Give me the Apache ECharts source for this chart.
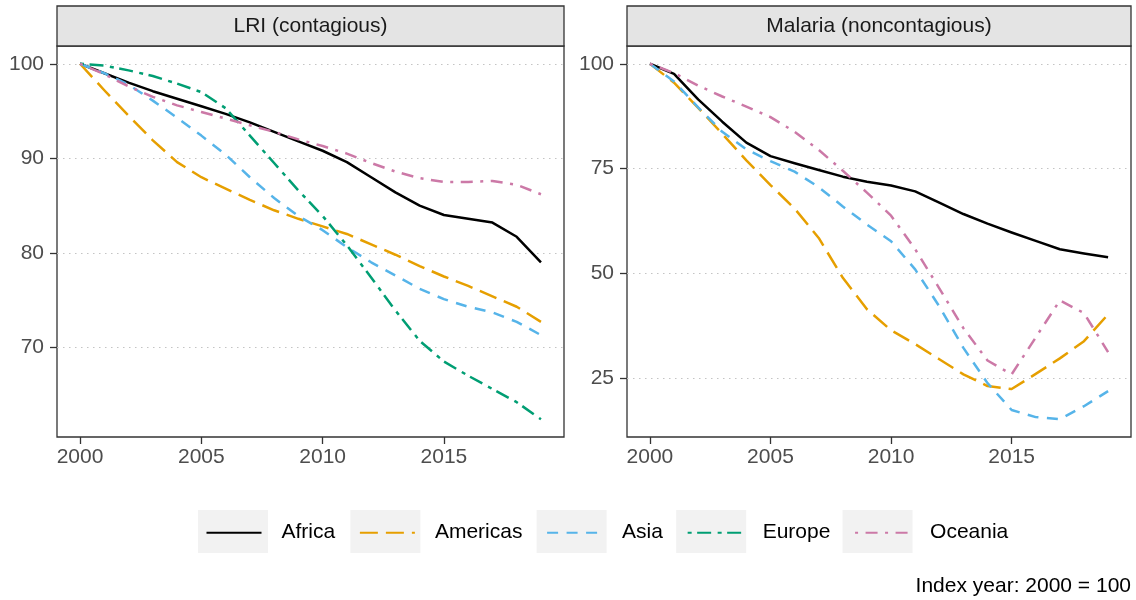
<!DOCTYPE html>
<html>
<head>
<meta charset="utf-8">
<title>LRI and malaria index by region</title>
<script src="https://cdn.jsdelivr.net/npm/echarts@6/dist/echarts.min.js"></script>
<style>
  html, body { margin: 0; padding: 0; background: #ffffff; }
  #chart { width: 1136px; height: 600px; }
</style>
</head>
<body>
<div id="chart"></div>
<script>
// ---- data -------------------------------------------------------------
const years = [2000, 2001, 2002, 2003, 2004, 2005, 2006, 2007, 2008, 2009,
               2010, 2011, 2012, 2013, 2014, 2015, 2016, 2017, 2018, 2019];
const regions = ['Africa', 'Americas', 'Asia', 'Europe', 'Oceania'];
const panelTitles = ['LRI (contagious)', 'Malaria (noncontagious)'];

const lriAfrica   = [100, 99.0, 98.0, 97.1, 96.3, 95.5, 94.7, 93.8, 92.8, 91.8, 90.8, 89.6, 88.0, 86.4, 85.0, 84.0, 83.6, 83.2, 81.7, 79.0];
const lriAmericas = [100, 97.2, 94.5, 91.9, 89.6, 88.0, 86.8, 85.6, 84.5, 83.6, 82.8, 82.0, 80.9, 79.8, 78.6, 77.5, 76.5, 75.4, 74.3, 72.7];
const lriAsia     = [100, 99.0, 97.8, 96.1, 94.3, 92.4, 90.4, 88.0, 85.8, 83.9, 82.4, 80.6, 79.0, 77.6, 76.2, 75.1, 74.3, 73.7, 72.7, 71.3];
const lriEurope   = [100, 99.8, 99.3, 98.7, 97.9, 97.0, 95.3, 92.4, 89.5, 86.6, 83.9, 80.8, 77.4, 73.9, 70.7, 68.5, 67.0, 65.6, 64.2, 62.4];
const lriOceania  = [100, 98.9, 97.6, 96.5, 95.6, 94.9, 94.2, 93.5, 92.8, 92.0, 91.3, 90.5, 89.5, 88.6, 87.9, 87.5, 87.5, 87.6, 87.2, 86.2];

const malariaAfrica   = [100, 97.6, 91.5, 86.2, 81.2, 78.0, 76.3, 74.7, 73.1, 71.9, 71.0, 69.6, 66.9, 64.2, 61.9, 59.8, 57.8, 55.8, 54.8, 53.9];
const malariaAmericas = [100, 95.5, 89.5, 83.3, 77.0, 71.1, 65.5, 58.5, 49.0, 41.5, 36.5, 33.2, 29.6, 26.0, 23.2, 22.5, 26.1, 29.8, 33.9, 40.3];
const malariaAsia     = [100, 95.8, 89.6, 83.8, 79.6, 76.8, 74.3, 70.6, 66.0, 61.7, 57.7, 51.0, 42.2, 32.3, 23.9, 17.5, 15.8, 15.3, 18.4, 22.0];
const malariaOceania  = [100, 97.8, 94.8, 92.2, 89.8, 87.3, 83.8, 79.5, 74.5, 69.3, 63.8, 55.8, 46.5, 37.0, 29.3, 26.0, 34.8, 43.6, 40.6, 31.3];

const xTicks = [2000, 2005, 2010, 2015];
const lriTicks = [70, 80, 90, 100];
const malariaTicks = [25, 50, 75, 100];
const captionText = 'Index year: 2000 = 100';

// ---- styling ----------------------------------------------------------
const FONT = "'Liberation Sans', Arial, Helvetica, sans-serif";
const FS = 21;
const LINE_W = 2.5;
const regionColor = {
  Africa: '#000000', Americas: '#E69F00', Asia: '#56B4E9', Europe: '#009E73', Oceania: '#CC79A7'
};
const regionDash = {
  Africa: 'solid',
  Americas: [18, 8],
  Asia: [11, 8.5],
  Europe: [4, 5.5, 14, 6.5],
  Oceania: [3, 7.5, 12, 7.5]
};

// panel rectangles (pixels)
const panels = [
  { left: 57, top: 46, width: 507, height: 391 },
  { left: 627, top: 46, width: 504, height: 391 }
];
const stripTop = 6;

// values per panel, keyed by region
const panelData = [
  { Africa: lriAfrica, Americas: lriAmericas, Asia: lriAsia, Europe: lriEurope, Oceania: lriOceania },
  { Africa: malariaAfrica, Americas: malariaAmericas, Asia: malariaAsia, Oceania: malariaOceania }
];
const panelTicks = [lriTicks, malariaTicks];

// continuous scale expanded by 5% on each side
function expanded(values) {
  const lo = Math.min(...values), hi = Math.max(...values);
  const pad = (hi - lo) * 0.05;
  return [lo - pad, hi + pad];
}
const xRange = expanded(years);

const grids = panels.map(p => ({
  left: p.left, top: p.top, width: p.width, height: p.height,
  show: true, backgroundColor: '#ffffff', borderColor: '#333333', borderWidth: 1.3,
  containLabel: false
}));

const xAxes = panels.map((p, i) => ({
  type: 'value', gridIndex: i, min: xRange[0], max: xRange[1],
  axisLine: { show: false },
  axisTick: { show: true, length: 7, customValues: xTicks, lineStyle: { color: '#333333', width: 1.3 } },
  axisLabel: { customValues: xTicks, color: '#4D4D4D', fontSize: FS, fontFamily: FONT, margin: 10,
               formatter: v => String(v) },
  splitLine: { show: false }
}));

const yAxes = panels.map((p, i) => {
  const all = [].concat(...Object.values(panelData[i]));
  const r = expanded(all);
  return {
    type: 'value', gridIndex: i, min: r[0], max: r[1],
    axisLine: { show: false },
    axisTick: { show: true, length: 7, customValues: panelTicks[i], lineStyle: { color: '#333333', width: 1.3 } },
    axisLabel: { customValues: panelTicks[i], color: '#4D4D4D', fontSize: FS, fontFamily: FONT, margin: 13,
                 formatter: v => String(v) },
    splitLine: { show: true, lineStyle: { color: '#C4C4C4', width: 1.2, type: [1.5, 4.5] } }
  };
});

const series = [];
panelData.forEach((byRegion, i) => {
  regions.forEach(name => {
    const vals = byRegion[name];
    if (!vals) return;
    series.push({
      type: 'line', name: name, xAxisIndex: i, yAxisIndex: i,
      data: years.map((yr, k) => [yr, vals[k]]),
      symbol: 'none', smooth: false, silent: true,
      lineStyle: { color: regionColor[name], width: LINE_W, type: regionDash[name], cap: 'butt', join: 'round' },
      itemStyle: { color: regionColor[name] },
      emphasis: { disabled: true }
    });
  });
});

// legend: grey key boxes underneath, line samples and labels on top
const legendTop = 510;
const legendLeft = 198;
const keyBoxes = {
  data: regions, selectedMode: false, orient: 'horizontal',
  left: legendLeft, top: legendTop, padding: 0,
  itemWidth: 70, itemHeight: 43, itemGap: 23.7,
  icon: 'rect',
  itemStyle: { color: '#F2F2F2', borderWidth: 0, opacity: 1 },
  textStyle: { color: 'rgba(0,0,0,0)', fontSize: FS, fontFamily: FONT }
};
const keyLines = {
  data: regions, selectedMode: false, orient: 'horizontal',
  left: legendLeft + 7.5, top: legendTop + 5.5, padding: 0,
  itemWidth: 55, itemHeight: 43, itemGap: 23.7,
  itemStyle: { opacity: 0 },
  textStyle: { color: '#000000', fontSize: FS, fontFamily: FONT, padding: [0, 0, 0, 15] }
};

// facet strips and caption
const graphics = [];
panels.forEach((p, i) => {
  graphics.push({
    type: 'rect', silent: true, z: 10,
    shape: { x: p.left, y: stripTop, width: p.width, height: p.top - stripTop },
    style: { fill: '#E4E4E4', stroke: '#333333', lineWidth: 1.3 }
  });
  graphics.push({
    type: 'text', silent: true, z: 11,
    style: { text: panelTitles[i], x: p.left + p.width / 2, y: (stripTop + p.top) / 2 + 0.5,
             align: 'center', verticalAlign: 'middle', fill: '#1A1A1A', fontSize: FS, fontFamily: FONT }
  });
});
graphics.push({
  type: 'text', silent: true,
  style: { text: captionText, x: 1131, y: 586.5, align: 'right', verticalAlign: 'middle',
           fill: '#000000', fontSize: FS, fontFamily: FONT }
});

const chart = echarts.init(document.getElementById('chart'), null, { renderer: 'canvas' });
chart.setOption({
  animation: false,
  backgroundColor: '#ffffff',
  grid: grids,
  xAxis: xAxes,
  yAxis: yAxes,
  legend: [keyBoxes, keyLines],
  graphic: graphics,
  series: series
});
</script>
</body>
</html>
